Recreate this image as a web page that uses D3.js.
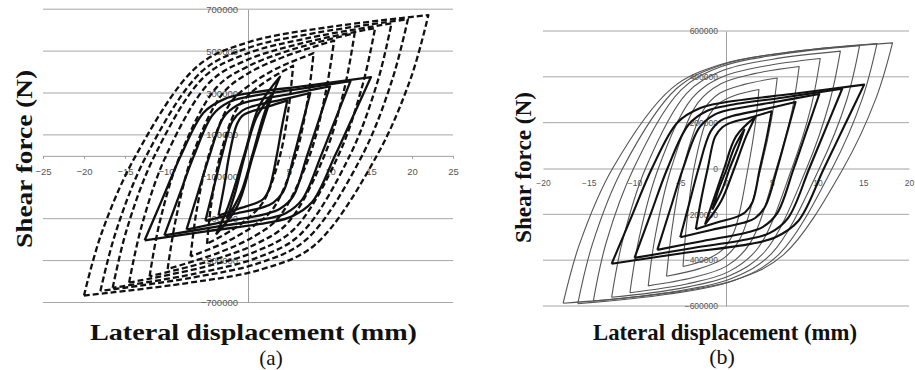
<!DOCTYPE html>
<html>
<head>
<meta charset="utf-8">
<script src="https://cdn.jsdelivr.net/npm/d3@7/dist/d3.min.js"></script>
<style>
  html, body { margin: 0; padding: 0; background: #fff; }
  svg { display: block; }
</style>
</head>
<body>
<svg id="chart" width="915" height="370"></svg>
<script>
// ---------- panel (a) ----------
const xTicksA = [-25, -20, -15, -10, 5, 10, 15, 20, 25];
const yTicksA = [-700000, -500000, -300000, -100000, 100000, 300000, 500000, 700000];
const gridA = [-700000, -500000, -300000, 100000, 300000, 500000, 700000];

// dashed hysteresis loops: [upper branch, lower branch], points [mm, N]
const dashedA = [
  [[[-20,-667000],[-17.9,-374000],[-13.7,0],[-6.1,430000],[0.2,544000],[9.4,612000],[22,672000]],
   [[22,672000],[19.9,376000],[15.7,0],[8.1,-427000],[1.8,-540000],[-7.4,-607000],[-20,-667000]]],
  [[[-18,-645000],[-16.1,-361000],[-12.4,0],[-5.6,404000],[0,515000],[8.3,587000],[19.5,652000]],
   [[19.5,652000],[17.6,365000],[13.9,0],[7.1,-400000],[1.5,-510000],[-6.8,-581000],[-18,-645000]]],
  [[[-16.5,-630000],[-14.8,-353000],[-11.4,0],[-5.3,379000],[-0.2,487000],[7.3,562000],[17.5,632000]],
   [[17.5,632000],[15.8,354000],[12.4,0],[6.3,-378000],[1.2,-485000],[-6.3,-561000],[-16.5,-630000]]],
  [[[-14.5,-605000],[-13,-339000],[-10,0],[-4.6,354000],[-0.1,458000],[6.5,537000],[15.5,610000]],
   [[15.5,610000],[14,342000],[11,0],[5.6,-351000],[1.1,-454000],[-5.5,-532000],[-14.5,-605000]]],
  [[[-12,-575000],[-10.8,-322000],[-8.3,0],[-3.8,328000],[0,427000],[5.5,509000],[13,585000]],
   [[13,585000],[11.8,328000],[9.3,0],[4.8,-322000],[1,-420000],[-4.5,-500000],[-12,-575000]]],
  [[[-9.8,-540000],[-8.8,-302000],[-6.8,0],[-3.1,297000],[-0.1,391000],[4.4,473000],[10.5,550000]],
   [[10.5,550000],[9.5,308000],[7.5,0],[3.8,-292000],[0.8,-383000],[-3.7,-464000],[-9.8,-540000]]],
  [[[-7,-480000],[-6.3,-269000],[-4.8,0],[-2.1,255000],[0.2,338000],[3.5,417000],[8,490000]],
   [[8,490000],[7.3,274000],[5.8,0],[3.1,-250000],[0.8,-331000],[-2.5,-408000],[-7,-480000]]],
  [[[-5,-420000],[-4.5,-235000],[-3.4,0],[-1.5,215000],[0,288000],[2.4,361000],[5.5,430000]],
   [[5.5,430000],[5,241000],[3.9,0],[2,-210000],[0.5,-281000],[-1.9,-353000],[-5,-420000]]]
];

// solid hysteresis loops
const solidA = [
  [[[-12.6,-403000],[-10.4,-202000],[-8.2,0],[-5.4,207000],[-2.9,271000],[-0.2,297000],[7.3,335000],[15,376000]],
   [[15,376000],[12.8,188000],[10.6,0],[7.8,-222000],[5.3,-290000],[2.6,-318000],[-4.9,-359000],[-12.6,-403000]]],
  [[[-10.2,-380000],[-8.4,-190000],[-6.6,0],[-4.3,196000],[-2.3,257000],[0,282000],[6.1,318000],[12.5,357000]],
   [[12.5,357000],[10.7,179000],[8.9,0],[6.6,-209000],[4.6,-274000],[2.3,-300000],[-3.8,-338000],[-10.2,-380000]]],
  [[[-7.5,-352000],[-6.1,-176000],[-4.7,0],[-3,183000],[-1.4,239000],[0.4,262000],[5.1,295000],[10,332000]],
   [[10,332000],[8.6,166000],[7.2,0],[5.5,-194000],[3.9,-253000],[2.1,-278000],[-2.6,-313000],[-7.5,-352000]]],
  [[[-5.2,-310000],[-4.2,-155000],[-3.2,0],[-1.9,165000],[-0.7,216000],[0.6,237000],[4,267000],[7.6,300000]],
   [[7.6,300000],[6.6,150000],[5.6,0],[4.3,-171000],[3.1,-223000],[1.9,-245000],[-1.6,-276000],[-5.2,-310000]]],
  [[[-3.6,-285000],[-2.9,-142000],[-2.3,0],[-1.4,146000],[-0.7,191000],[0.2,209000],[2.5,236000],[4.8,265000]],
   [[4.8,265000],[4.1,132000],[3.5,0],[2.6,-157000],[1.9,-205000],[1,-225000],[-1.3,-254000],[-3.6,-285000]]],
  [[[-3.9,-375000],[-2.4,-240000],[-0.5,0],[1.4,240000],[3.9,378000]],
   [[3.9,378000],[2.5,240000],[0.6,0],[-1.3,-240000],[-3.9,-375000]]],
  [[[-2.6,-300000],[-1.6,-180000],[-0.4,0],[1,180000],[2.8,290000]],
   [[2.8,290000],[1.8,180000],[0.5,0],[-0.9,-180000],[-2.6,-300000]]]
];

// ---------- panel (b) ----------
const xTicksB = [-20, -15, -10, -5, 0, 5, 10, 15, 20];
const yTicksB = [-600000, -400000, -200000, 0, 200000, 400000, 600000];
const gridB = [-600000, -400000, -200000, 200000, 400000, 600000];

// thin grey loops
const greyB = [
  [[[-17.8,-588000],[-16,-329000],[-12.4,0],[-5.9,351000],[-0.5,455000],[7.4,510000],[18.2,548000]],
   [[18.2,548000],[16.4,307000],[12.8,0],[6.3,-376000],[0.9,-488000],[-7,-547000],[-17.8,-588000]]],
  [[[-16.2,-590000],[-14.6,-330000],[-11.3,0],[-5.4,349000],[-0.5,452000],[6.7,507000],[16.5,545000]],
   [[16.5,545000],[14.9,305000],[11.6,0],[5.7,-378000],[0.8,-490000],[-6.4,-549000],[-16.2,-590000]]],
  [[[-14.5,-578000],[-13.1,-324000],[-10.1,0],[-4.9,343000],[-0.5,445000],[5.9,498000],[14.6,536000]],
   [[14.6,536000],[13.2,300000],[10.2,0],[5,-370000],[0.6,-480000],[-5.8,-538000],[-14.5,-578000]]],
  [[[-12.5,-562000],[-11.3,-315000],[-8.8,0],[-4.3,328000],[-0.5,425000],[5,476000],[12.5,512000]],
   [[12.5,512000],[11.3,287000],[8.8,0],[4.3,-360000],[0.5,-466000],[-5,-523000],[-12.5,-562000]]],
  [[[-10.5,-542000],[-9.5,-304000],[-7.4,0],[-3.7,307000],[-0.5,398000],[4.1,446000],[10.3,480000]],
   [[10.3,480000],[9.3,269000],[7.2,0],[3.5,-347000],[0.3,-450000],[-4.3,-504000],[-10.5,-542000]]],
  [[[-8.5,-512000],[-7.7,-287000],[-6,0],[-3.1,285000],[-0.6,369000],[3.1,414000],[8,445000]],
   [[8,445000],[7.2,249000],[5.5,0],[2.6,-328000],[0.1,-425000],[-3.6,-476000],[-8.5,-512000]]],
  [[[-6.5,-470000],[-5.9,-263000],[-4.7,0],[-2.5,253000],[-0.7,328000],[2,367000],[5.6,395000]],
   [[5.6,395000],[5,221000],[3.8,0],[1.6,-301000],[-0.2,-390000],[-2.9,-437000],[-6.5,-470000]]],
  [[[-4.7,-428000],[-4.3,-240000],[-3.5,0],[-2,221000],[-0.7,286000],[1.1,321000],[3.6,345000]],
   [[3.6,345000],[3.2,193000],[2.4,0],[0.9,-274000],[-0.4,-355000],[-2.2,-398000],[-4.7,-428000]]]
];

// thick black loops
const blackB = [
  [[[-12.5,-416000],[-10.3,-208000],[-8.1,0],[-5.3,201000],[-2.8,264000],[-0.1,289000],[7.4,326000],[15.1,366000]],
   [[15.1,366000],[12.9,183000],[10.7,0],[7.9,-229000],[5.4,-300000],[2.7,-329000],[-4.8,-370000],[-12.5,-416000]]],
  [[[-10,-390000],[-8.2,-195000],[-6.4,0],[-4.1,191000],[-2.1,251000],[0.2,275000],[6.3,310000],[12.7,348000]],
   [[12.7,348000],[10.9,174000],[9.1,0],[6.8,-215000],[4.8,-281000],[2.5,-308000],[-3.6,-347000],[-10,-390000]]],
  [[[-7.5,-355000],[-6.1,-178000],[-4.7,0],[-2.9,179000],[-1.3,234000],[0.5,257000],[5.2,289000],[10.2,325000]],
   [[10.2,325000],[8.8,163000],[7.4,0],[5.6,-195000],[4,-256000],[2.2,-280000],[-2.5,-316000],[-7.5,-355000]]],
  [[[-5,-300000],[-4,-150000],[-3,0],[-1.7,160000],[-0.6,209000],[0.7,229000],[4.1,258000],[7.6,290000]],
   [[7.6,290000],[6.6,145000],[5.6,0],[4.3,-165000],[3.2,-216000],[1.9,-237000],[-1.5,-267000],[-5,-300000]]],
  [[[-3.3,-265000],[-2.7,-132000],[-2,0],[-1.2,138000],[-0.4,180000],[0.4,198000],[2.7,223000],[5,250000]],
   [[5,250000],[4.4,125000],[3.7,0],[2.9,-146000],[2.1,-191000],[1.3,-209000],[-1,-236000],[-3.3,-265000]]],
  [[[-2.3,-245000],[-1.4,-140000],[-0.2,0],[1.1,140000],[3.2,225000]],
   [[3.2,225000],[2.2,140000],[0.9,0],[-0.5,-140000],[-2.3,-245000]]],
  [[[-1.5,-180000],[-0.8,-90000],[0.1,0],[0.9,90000],[2,170000]],
   [[2,170000],[1.3,90000],[0.4,0],[-0.4,-90000],[-1.5,-180000]]]
];

const svg = d3.select("#chart");
const serif = "'Liberation Serif', 'Times New Roman', Times, serif";
const sans = "'Liberation Sans', Arial, sans-serif";

function panel(cfg) {
  const g = svg.append("g");
  const x = d3.scaleLinear().domain(cfg.xDomain).range(cfg.xRange);
  const y = d3.scaleLinear().domain(cfg.yDomain).range(cfg.yRange);

  // horizontal gridlines
  g.append("g").selectAll("line").data(cfg.grid).join("line")
    .attr("x1", cfg.xRange[0]).attr("x2", cfg.xRange[1])
    .attr("y1", d => y(d)).attr("y2", d => y(d))
    .attr("stroke", "#a6a6a6").attr("stroke-width", 1);

  // horizontal axis through zero force
  const xAxis = g.append("g").attr("transform", `translate(0,${y(0)})`)
    .call(d3.axisBottom(x).tickValues(cfg.xTicks).tickSizeInner(cfg.xTickSize)
      .tickSizeOuter(0).tickPadding(cfg.xPad).tickFormat(d3.format("d")));
  xAxis.select(".domain").attr("stroke", "#a0a0a0");
  xAxis.selectAll(".tick line").attr("stroke", "#a0a0a0");
  xAxis.selectAll("text").attr("fill", "#555").attr("font-family", sans)
    .attr("font-size", cfg.tickFont);

  // vertical axis through zero displacement
  const yAxis = g.append("g").attr("transform", `translate(${x(0)},0)`)
    .call(d3.axisLeft(y).tickValues(cfg.yTicks).tickSize(0).tickPadding(cfg.yPad)
      .tickFormat(d3.format("d")));
  yAxis.select(".domain").attr("stroke", "#a0a0a0");
  yAxis.selectAll("text").attr("fill", "#555").attr("font-family", sans)
    .attr("font-size", cfg.tickFont);

  // each loop: loading branch then unloading branch
  const branch = d3.line().x(p => x(p[0])).y(p => y(p[1]))
    .curve(d3.curveCatmullRom.alpha(0.5));

  cfg.series.forEach(s => {
    g.append("g").selectAll("path").data(s.loops).join("path")
      .attr("d", l => branch(l[0]) + branch(l[1]).replace(/^M[^C]*/, ""))
      .attr("fill", "none")
      .attr("stroke", s.color)
      .attr("stroke-width", s.width)
      .attr("stroke-dasharray", s.dash || null)
      .attr("stroke-linejoin", "round");
  });

  // axis titles
  g.append("text")
    .attr("transform", `translate(${cfg.yTitle[0]},${cfg.yTitle[1]}) rotate(-90)`)
    .attr("text-anchor", "middle").attr("font-family", serif).attr("font-weight", "bold")
    .attr("font-size", cfg.yTitle[2]).attr("textLength", cfg.yTitle[3])
    .attr("lengthAdjust", "spacingAndGlyphs").attr("fill", "#111")
    .text("Shear force (N)");
  g.append("text")
    .attr("x", cfg.xTitle[0]).attr("y", cfg.xTitle[1])
    .attr("text-anchor", "middle").attr("font-family", serif).attr("font-weight", "bold")
    .attr("font-size", cfg.xTitle[2]).attr("textLength", cfg.xTitle[3])
    .attr("lengthAdjust", "spacingAndGlyphs").attr("fill", "#111")
    .text("Lateral displacement (mm)");
  g.append("text")
    .attr("x", cfg.tag[0]).attr("y", cfg.tag[1])
    .attr("text-anchor", "middle").attr("font-family", serif)
    .attr("font-size", cfg.tag[2]).attr("fill", "#111")
    .text(cfg.tag[3]);
}

panel({
  xDomain: [-25, 25], xRange: [43, 453],
  yDomain: [-700000, 700000], yRange: [302.5, 9.2],
  xTicks: xTicksA, yTicks: yTicksA, grid: gridA,
  xTickSize: 3, xPad: 9.5, yPad: 10, tickFont: 9.5,
  series: [
    { loops: dashedA, color: "#111", width: 2.3, dash: "6,3" },
    { loops: solidA, color: "#111", width: 2.3 }
  ],
  yTitle: [31.5, 159, 24, 178],
  xTitle: [253.5, 340, 23, 327],
  tag: [271, 365, 21, "(a)"]
});

panel({
  xDomain: [-20, 20], xRange: [543, 909],
  yDomain: [-600000, 600000], yRange: [306, 31],
  xTicks: xTicksB, yTicks: yTicksB, grid: gridB,
  xTickSize: 0, xPad: 11.8, yPad: 8, tickFont: 8.5,
  series: [
    { loops: greyB, color: "#555", width: 1.1 },
    { loops: blackB, color: "#111", width: 2.1 }
  ],
  yTitle: [531, 167.5, 23, 151],
  xTitle: [725, 340, 23, 264],
  tag: [722, 364, 22, "(b)"]
});
</script>
</body>
</html>
